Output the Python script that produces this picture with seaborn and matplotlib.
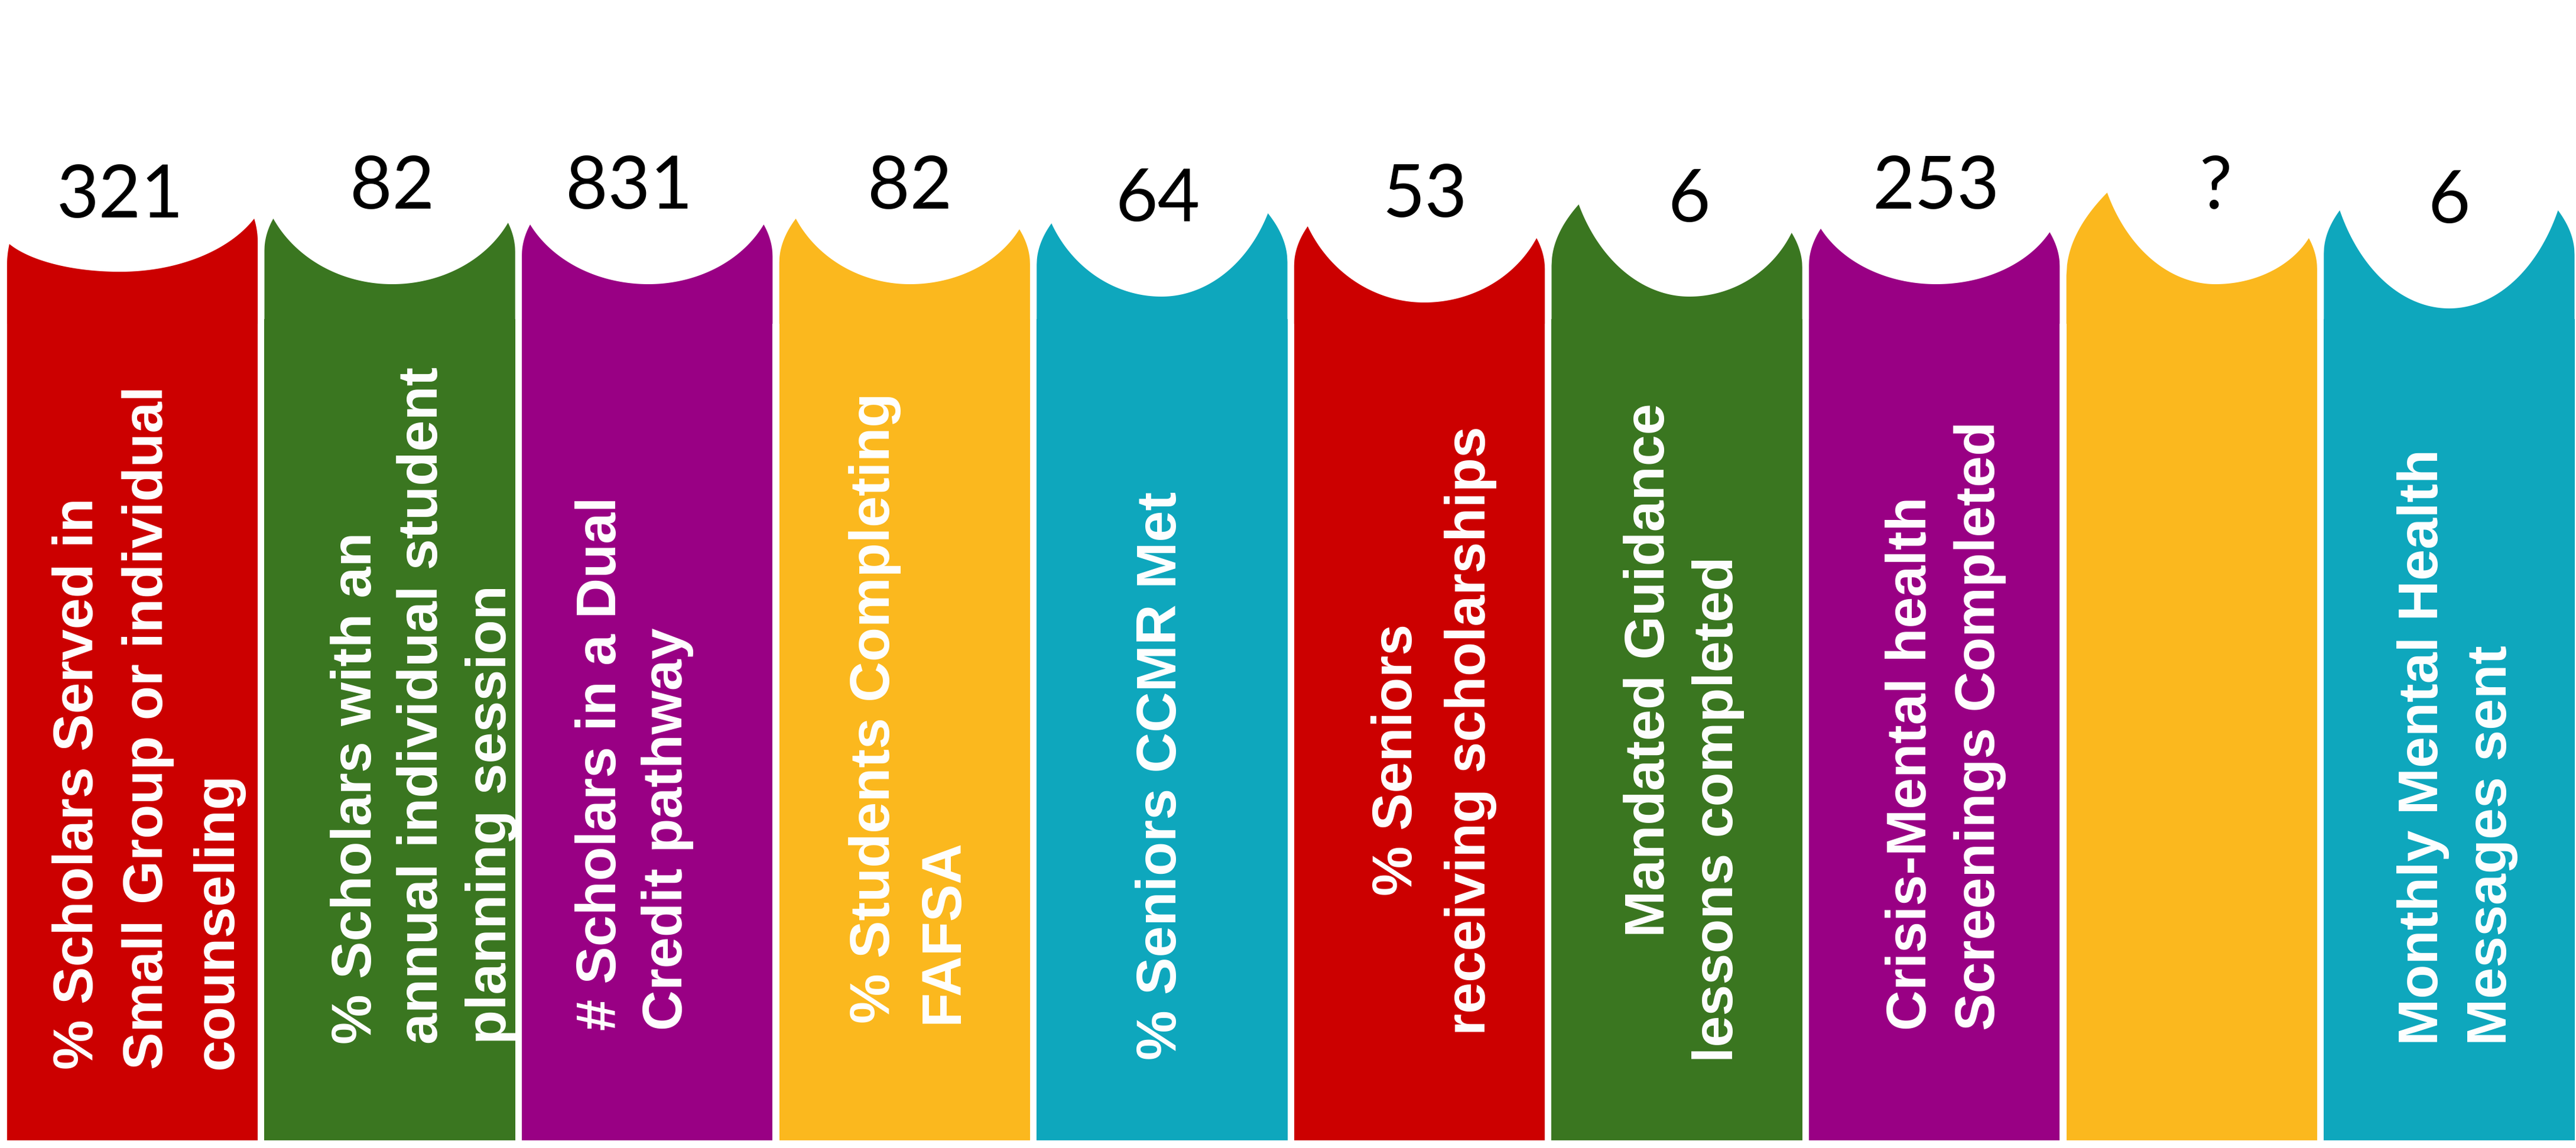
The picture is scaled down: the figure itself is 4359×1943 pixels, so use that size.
import numpy as np
import pandas as pd
import matplotlib
matplotlib.use("Agg")
import matplotlib.pyplot as plt
from matplotlib.patches import Polygon
import seaborn as sns

# ---------------- content ----------------
values = ["321", "82", "831", "82", "64", "53", "6", "253", "?", "6"]

label_lines = [
    ["% Scholars Served in", "Small Group or individual", "counseling"],
    ["% Scholars with an", "annual individual student", "planning session"],
    ["# Scholars in a Dual", "Credit pathway"],
    ["% Students Completing", "FAFSA"],
    ["% Seniors CCMR Met"],
    ["% Seniors", "receiving scholarships"],
    ["Mandated Guidance", "lessons completed"],
    ["Crisis-Mental health", "Screenings Completed"],
    [],
    ["Monthly Mental Health", "Messages sent"],
]

colors = ["#CC0000", "#3A7620", "#990084", "#FBB81E", "#0EA7BD",
          "#CC0000", "#3A7620", "#990084", "#FBB81E", "#0EA7BD"]

# ---------------- layout (pixel units of the canvas) ----------------
W, H = 4359, 1943
BASE = 1930          # bottom edge of the panels
BODY_TOP = 540       # top of the straight part of each panel
PITCH = 435.6        # pixels per category slot
FIRST_CENTER = 224
BAR_WIDTH = 0.974

# scalloped caps: tip heights, dip depth, tip insets, dip shift
left_tip_y = [413, 370, 380, 370, 378, 383, 346, 387, 326, 356]
right_tip_y = [370, 377, 380, 388, 361, 403, 394, 393, 403, 356]
dip_y = [460, 481, 481, 481, 502, 512, 502, 481, 481, 522]
left_inset = [4, 15, 14, 28, 25, 23, 46, 20, 69, 27]
right_inset = [6, 12, 15, 18, 33, 14, 18, 17, 14, 28]
dip_shift = [-21, 4, 2, 9, -1, 8, 21, 3, 40, 0]

# number labels above each panel
value_shift = [-21, 4, -31, 9, -7, 9, 21, 3, 40, 0]
value_baseline = [368, 353, 353, 353, 374, 367, 375, 353, 353, 377]

# rotated caption lines: baseline offset from panel left edge, start height
line_x = [[145, 263, 381], [181, 293, 409], [159, 271], [186, 302], [236],
          [199, 323], [191, 307], [198, 314], [], [193, 309]]
line_start = [[1810] * 3, [1767] * 3, [1744] * 2, [1732] * 2, [1794],
              [1516, 1752], [1586, 1798], [1744] * 2, [], [1769] * 2]

# ---------------- figure ----------------
fig = plt.figure(figsize=(W / 100, H / 100), dpi=100)
fig.patch.set_facecolor("white")
ax = fig.add_axes([0, 0, 1, 1])

keys = ["\n".join(l) if l else "blank" for l in label_lines]
df = pd.DataFrame({"metric": keys, "panel": [BASE - BODY_TOP] * len(keys)})

sns.barplot(data=df, x="metric", y="panel", hue="metric", order=keys,
            hue_order=keys, palette=colors, saturation=1, width=BAR_WIDTH,
            linewidth=0, legend=False, ax=ax)

x0 = -FIRST_CENTER / PITCH
ax.set_xlim(x0, x0 + W / PITCH)
ax.set_ylim(BASE - H, BASE)
ax.axis("off")


def to_data(xp, yp):
    return x0 + np.asarray(xp) / PITCH, BASE - np.asarray(yp)


def to_px(xd):
    return (xd - x0) * PITCH


bars = sorted(ax.patches, key=lambda p: p.get_x())
K = 0.8
overlap_y = BODY_TOP + 8
for i, bar in enumerate(bars):
    Lp = to_px(bar.get_x())
    Rp = to_px(bar.get_x() + bar.get_width())
    cx = (Lp + Rp) / 2
    xm, ym = cx + dip_shift[i], dip_y[i]

    xtl, ytl = Lp + left_inset[i], left_tip_y[i]
    xtr, ytr = Rp - right_inset[i], right_tip_y[i]
    ysl = ytl + 30 + 1.6 * left_inset[i]
    ysr = ytr + 30 + 1.6 * right_inset[i]

    u = np.linspace(0, 1, 60)
    horn_l_x = Lp + u * (xtl - Lp)
    horn_l_y = ysl - (ysl - ytl) * np.sqrt(u)

    t = np.linspace(1, 0, 120)
    f = (1 - np.sqrt(1 - K * t ** 2)) / (1 - np.sqrt(1 - K))
    sc_l_x = xm + t * (xtl - xm)
    sc_l_y = ym - (ym - ytl) * f
    t2 = t[::-1]
    f2 = f[::-1]
    sc_r_x = xm + t2 * (xtr - xm)
    sc_r_y = ym - (ym - ytr) * f2

    horn_r_x = (Rp + u * (xtr - Rp))[::-1]
    horn_r_y = (ysr - (ysr - ytr) * np.sqrt(u))[::-1]

    xs = np.concatenate([[Lp], horn_l_x, sc_l_x, sc_r_x, horn_r_x, [Rp]])
    ys = np.concatenate([[overlap_y], horn_l_y, sc_l_y, sc_r_y, horn_r_y,
                         [overlap_y]])
    xd, yd = to_data(xs, ys)
    ax.add_patch(Polygon(np.column_stack([xd, yd]), closed=True,
                         facecolor=bar.get_facecolor(), edgecolor="none",
                         linewidth=0))

    # value above the panel
    vx, vy = to_data(cx + value_shift[i], value_baseline[i])
    ax.text(vx, vy, values[i], ha="center", va="baseline", color="black",
            fontsize=89, family=["Lato", "DejaVu Sans"])

    # rotated caption lines
    for line, ox, sy in zip(label_lines[i], line_x[i], line_start[i]):
        tx, ty = to_data(Lp + ox, sy)
        ax.text(tx, ty, line, rotation=90, rotation_mode="anchor",
                ha="left", va="baseline", color="white", fontsize=68.5,
                fontweight="bold", family=["Liberation Sans", "DejaVu Sans"])

fig.savefig("out.png", dpi=100, facecolor="white")
